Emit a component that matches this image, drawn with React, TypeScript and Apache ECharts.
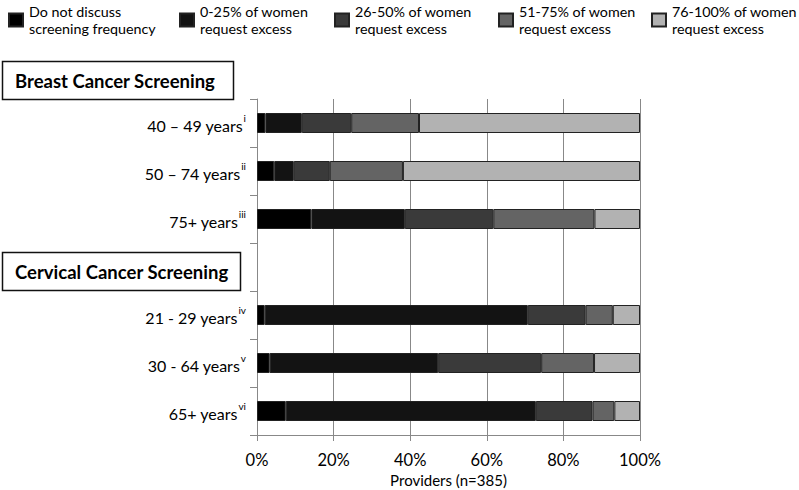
import React, { useEffect, useRef } from "react";
import * as echarts from "echarts";

const categories = ["40 – 49 years", "50 – 74 years", "75+ years", "", "21 - 29 years", "30 - 64 years", "65+ years"];
const superscripts = ["i", "ii", "iii", "", "iv", "v", "vi"];
const seriesNames = [
  "Do not discuss\nscreening frequency",
  "0-25% of women\nrequest excess",
  "26-50% of women\nrequest excess",
  "51-75% of women\nrequest excess",
  "76-100% of women\nrequest excess",
];
const notDiscuss = [2.2, 4.5, 14.2, null, 2.0, 3.3, 7.5];
const pct0to25 = [9.5, 5.1, 24.4, null, 68.7, 44.0, 65.3];
const pct26to50 = [12.9, 9.4, 23.1, null, 15.1, 26.9, 14.8];
const pct51to75 = [17.7, 19.1, 26.4, null, 7.1, 13.8, 5.7];
const pct76to100 = [57.7, 61.9, 11.9, null, 7.1, 12.0, 6.7];
const xTicks = [0, 20, 40, 60, 80, 100];
const sectionTitles = ["Breast Cancer Screening", "Cervical Cancer Screening"];

const colors = ["#000000", "#131313", "#3a3a3a", "#646464", "#b2b2b2"];
const legendLefts = [8, 179, 334, 498, 651];

export default function App() {
  const ref = useRef<HTMLDivElement>(null);
  useEffect(() => {
    if (!ref.current) return;
    const chart = echarts.init(ref.current, null, { renderer: "svg" });
    const values = [notDiscuss, pct0to25, pct26to50, pct51to75, pct76to100];
    const font = "Lato, 'Open Sans', sans-serif";
    const option: any = {
      animation: false,
      textStyle: { fontFamily: font },
      color: colors,
      legend: seriesNames.map((n, i) => ({
        data: [n],
        left: legendLefts[i],
        top: 3,
        padding: 0,
        icon: "rect",
        itemWidth: 14,
        itemHeight: 13,
        selectedMode: false,
        textStyle: { fontFamily: font, fontSize: 14.3, color: "#000", lineHeight: 17, padding: [0, 0, 0, 1] },
      })),
      grid: { left: 257, right: 159, top: 99, bottom: 55, outerBoundsMode: "none", containLabel: false },
      xAxis: {
        type: "value",
        min: 0,
        max: 100,
        interval: 20,
        name: "Providers (n=385)",
        nameLocation: "middle",
        nameGap: 37,
        nameMoveOverlap: false,
        nameTextStyle: { fontFamily: font, fontSize: 15, color: "#000" },
        axisLine: { show: true, lineStyle: { color: "#888", width: 1 } },
        axisTick: { show: true, length: 6, lineStyle: { color: "#888" } },
        splitLine: { show: true, lineStyle: { color: "#888", width: 1 } },
        axisLabel: {
          margin: 16,
          fontFamily: font,
          fontSize: 16.5,
          color: "#000",
          formatter: (v: number) => (xTicks.includes(v) ? v + "%" : ""),
        },
      },
      yAxis: {
        type: "category",
        inverse: true,
        data: categories,
        axisLine: { show: true, lineStyle: { color: "#888", width: 1 } },
        axisTick: { show: true, length: 7, lineStyle: { color: "#888" } },
        axisLabel: {
          margin: 11,
          formatter: (v: string) => {
            const idx = categories.indexOf(v);
            if (!v) return "";
            return "{n|" + v + "}{s|" + superscripts[idx] + "}";
          },
          rich: {
            n: { fontFamily: font, fontSize: 16, color: "#000", lineHeight: 20, verticalAlign: "bottom" },
            s: { fontFamily: font, fontSize: 10, color: "#000", lineHeight: 20, verticalAlign: "top", padding: [0, 0, 6, 1] },
          },
        },
      },
      series: seriesNames.map((n, i) => ({
        name: n,
        type: "bar",
        stack: "total",
        barWidth: 20,
        data: values[i],
        itemStyle: { color: colors[i], borderColor: "#222", borderWidth: 1 },
      })),
      graphic: [
        {
          type: "rect",
          shape: { x: 2.5, y: 61.5, width: 231, height: 38 },
          style: { fill: "#fff", stroke: "#111", lineWidth: 1.5 },
        },
        {
          type: "text",
          x: 15,
          y: 81,
          style: { text: sectionTitles[0], font: "bold 18.5px " + font, fill: "#000", verticalAlign: "middle" },
        },
        {
          type: "rect",
          shape: { x: 2.5, y: 252.5, width: 238, height: 38 },
          style: { fill: "#fff", stroke: "#111", lineWidth: 1.5 },
        },
        {
          type: "text",
          x: 15,
          y: 272,
          style: { text: sectionTitles[1], font: "bold 18.5px " + font, fill: "#000", verticalAlign: "middle" },
        },
      ],
    };
    chart.setOption(option);
    return () => chart.dispose();
  }, []);
  return <div ref={ref} style={{ width: 799, height: 490, position: "absolute", left: 0, top: 0 }} />;
}
